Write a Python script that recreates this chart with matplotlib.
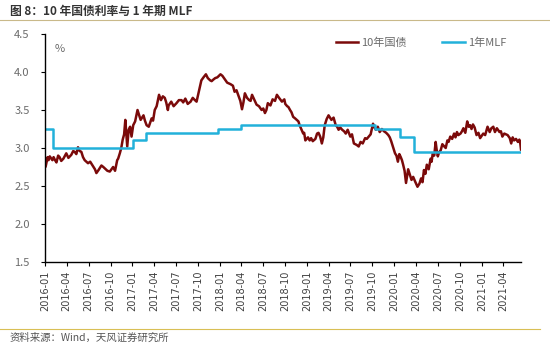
import matplotlib
matplotlib.use('Agg')
import matplotlib.pyplot as plt
import pandas as pd

plt.rcParams['font.family'] = ['Noto Sans CJK SC', 'DejaVu Sans']
plt.rcParams['axes.unicode_minus'] = False

# 10年国债收益率（%）
cgb_dates = [
    '2016-01-04', '2016-01-12', '2016-01-16', '2016-01-21', '2016-02-01', '2016-02-06',
    '2016-02-12', '2016-02-18', '2016-02-25', '2016-03-02', '2016-03-09', '2016-03-18',
    '2016-03-30', '2016-04-08', '2016-04-20', '2016-04-28', '2016-05-04', '2016-05-11',
    '2016-05-18', '2016-05-25', '2016-06-01', '2016-06-08', '2016-06-15', '2016-06-22',
    '2016-06-29', '2016-07-08', '2016-07-20', '2016-07-28', '2016-08-03', '2016-08-12',
    '2016-08-24', '2016-09-01', '2016-09-08', '2016-09-18', '2016-09-28', '2016-10-05',
    '2016-10-12', '2016-10-20', '2016-10-29', '2016-11-02', '2016-11-09', '2016-11-15',
    '2016-11-21', '2016-11-27', '2016-12-02', '2016-12-06', '2016-12-10', '2016-12-16',
    '2016-12-22', '2016-12-28', '2017-01-04', '2017-01-12', '2017-01-22', '2017-01-28',
    '2017-02-04', '2017-02-10', '2017-02-16', '2017-02-22', '2017-03-01', '2017-03-10',
    '2017-03-22', '2017-03-28', '2017-04-04', '2017-04-12', '2017-04-22', '2017-04-30',
    '2017-05-08', '2017-05-16', '2017-05-22', '2017-05-29', '2017-06-01', '2017-06-12',
    '2017-06-22', '2017-07-04', '2017-07-14', '2017-07-25', '2017-08-01', '2017-08-10',
    '2017-08-20', '2017-09-01', '2017-09-10', '2017-09-19', '2017-09-26', '2017-10-04',
    '2017-10-10', '2017-10-16', '2017-10-25', '2017-11-04', '2017-11-12', '2017-11-22',
    '2017-11-28', '2017-12-05', '2017-12-13', '2017-12-22', '2018-01-04', '2018-01-12',
    '2018-01-25', '2018-02-01', '2018-02-15', '2018-02-25', '2018-03-04', '2018-03-12',
    '2018-03-19', '2018-03-28', '2018-04-04', '2018-04-10', '2018-04-16', '2018-04-25',
    '2018-05-04', '2018-05-10', '2018-05-16', '2018-05-25', '2018-06-04', '2018-06-14',
    '2018-06-25', '2018-07-02', '2018-07-09', '2018-07-15', '2018-07-21', '2018-08-01',
    '2018-08-10', '2018-08-20', '2018-08-28', '2018-09-06', '2018-09-18', '2018-09-28',
    '2018-10-02', '2018-10-10', '2018-10-15', '2018-10-22', '2018-10-28', '2018-11-04',
    '2018-11-12', '2018-11-19', '2018-11-26', '2018-12-01', '2018-12-08', '2018-12-16',
    '2018-12-20', '2018-12-25', '2019-01-05', '2019-01-12', '2019-01-18', '2019-01-25',
    '2019-02-05', '2019-02-12', '2019-02-18', '2019-02-25', '2019-03-04', '2019-03-10',
    '2019-03-16', '2019-03-24', '2019-04-01', '2019-04-07', '2019-04-13', '2019-04-22',
    '2019-05-01', '2019-05-07', '2019-05-13', '2019-05-20', '2019-05-28', '2019-06-05',
    '2019-06-12', '2019-06-20', '2019-07-01', '2019-07-08', '2019-07-16', '2019-07-28',
    '2019-08-05', '2019-08-13', '2019-08-22', '2019-09-01', '2019-09-08', '2019-09-16',
    '2019-09-24', '2019-10-04', '2019-10-10', '2019-10-16', '2019-10-24', '2019-11-01',
    '2019-11-10', '2019-11-19', '2019-11-28', '2019-12-07', '2019-12-13', '2019-12-19',
    '2020-01-04', '2020-01-10', '2020-01-16', '2020-01-22', '2020-01-28', '2020-02-02',
    '2020-02-07', '2020-02-13', '2020-02-19', '2020-02-28', '2020-03-05', '2020-03-13',
    '2020-03-20', '2020-03-28', '2020-04-07', '2020-04-15', '2020-04-22', '2020-04-28',
    '2020-05-04', '2020-05-10', '2020-05-16', '2020-05-24', '2020-06-01', '2020-06-05',
    '2020-06-10', '2020-06-16', '2020-06-22', '2020-06-26', '2020-07-01', '2020-07-06',
    '2020-07-13', '2020-07-20', '2020-07-28', '2020-08-03', '2020-08-10', '2020-08-15',
    '2020-08-22', '2020-08-30', '2020-09-07', '2020-09-13', '2020-09-19', '2020-09-25',
    '2020-10-04', '2020-10-10', '2020-10-16', '2020-10-24', '2020-11-01', '2020-11-07',
    '2020-11-13', '2020-11-19', '2020-11-25', '2020-12-02', '2020-12-10', '2020-12-18',
    '2020-12-25', '2021-01-07', '2021-01-15', '2021-01-25', '2021-02-03', '2021-02-10',
    '2021-02-18', '2021-02-25', '2021-03-05', '2021-03-16', '2021-03-22', '2021-03-28',
    '2021-04-05', '2021-04-19', '2021-04-28', '2021-05-04', '2021-05-10', '2021-05-16',
    '2021-05-24', '2021-06-01', '2021-06-07', '2021-06-10', '2021-06-14',
]
cgb_yield = [
    2.76, 2.88, 2.84, 2.89, 2.84, 2.88,
    2.84, 2.81, 2.90, 2.88, 2.83, 2.86,
    2.93, 2.87, 2.91, 2.96, 2.95, 2.92,
    3.01, 2.96, 2.95, 2.88, 2.84, 2.82,
    2.80, 2.82, 2.76, 2.72, 2.67, 2.71,
    2.77, 2.75, 2.73, 2.70, 2.69, 2.72,
    2.75, 2.70, 2.84, 2.86, 2.93, 3.00,
    3.11, 3.18, 3.37, 3.20, 3.02, 3.24,
    3.28, 3.15, 3.30, 3.35, 3.50, 3.44,
    3.37, 3.40, 3.43, 3.36, 3.30, 3.28,
    3.39, 3.36, 3.50, 3.55, 3.70, 3.63,
    3.68, 3.66, 3.60, 3.50, 3.56, 3.61,
    3.55, 3.59, 3.63, 3.63, 3.60, 3.65,
    3.58, 3.61, 3.66, 3.63, 3.61, 3.72,
    3.80, 3.89, 3.93, 3.97, 3.92, 3.89,
    3.88, 3.90, 3.92, 3.93, 3.97, 3.95,
    3.89, 3.86, 3.84, 3.82, 3.74, 3.76,
    3.70, 3.62, 3.51, 3.60, 3.72, 3.66,
    3.63, 3.62, 3.70, 3.64, 3.57, 3.55,
    3.50, 3.52, 3.46, 3.50, 3.59, 3.56,
    3.64, 3.62, 3.70, 3.66, 3.61, 3.64,
    3.58, 3.55, 3.54, 3.50, 3.47, 3.41,
    3.39, 3.37, 3.35, 3.30, 3.25, 3.19,
    3.20, 3.10, 3.14, 3.10, 3.13, 3.09,
    3.12, 3.19, 3.20, 3.15, 3.06, 3.14,
    3.30, 3.38, 3.43, 3.40, 3.37, 3.40,
    3.30, 3.28, 3.24, 3.27, 3.24, 3.22,
    3.19, 3.24, 3.15, 3.18, 3.06, 3.04,
    3.02, 3.08, 3.06, 3.13, 3.12, 3.15,
    3.18, 3.32, 3.27, 3.24, 3.28, 3.21,
    3.25, 3.22, 3.20, 3.17, 3.14, 3.09,
    2.93, 2.90, 2.82, 2.92, 2.88, 2.84,
    2.78, 2.70, 2.54, 2.72, 2.66, 2.58,
    2.62, 2.56, 2.49, 2.53, 2.60, 2.55,
    2.71, 2.66, 2.78, 2.72, 2.86, 2.82,
    2.93, 2.90, 3.08, 2.98, 2.89, 2.94,
    2.97, 3.05, 3.02, 3.00, 3.10, 3.08,
    3.15, 3.12, 3.19, 3.14, 3.21, 3.17,
    3.19, 3.22, 3.26, 3.20, 3.35, 3.28,
    3.30, 3.25, 3.31, 3.27, 3.17, 3.20,
    3.13, 3.19, 3.17, 3.28, 3.21, 3.26,
    3.28, 3.21, 3.26, 3.21, 3.22, 3.15,
    3.19, 3.17, 3.13, 3.06, 3.14, 3.10,
    3.12, 3.08, 3.11, 3.08, 2.98,
]

# 1年期MLF利率（%），按调整日期
mlf_dates = ['2016-01-04', '2016-02-02', '2017-01-04', '2017-02-27', '2017-12-24',
             '2018-04-01', '2019-10-12', '2020-01-25', '2020-03-25', '2021-06-14']
mlf_rate = [3.25, 3.00, 3.10, 3.20, 3.25, 3.30, 3.25, 3.15, 2.95, 2.95]

tick_labels = ['2016-01', '2016-04', '2016-07', '2016-10', '2017-01', '2017-04', '2017-07',
               '2017-10', '2018-01', '2018-04', '2018-07', '2018-10', '2019-01', '2019-04',
               '2019-07', '2019-10', '2020-01', '2020-04', '2020-07', '2020-10', '2021-01',
               '2021-04']

cgb = pd.Series(cgb_yield, index=pd.to_datetime(cgb_dates)).sort_index()
mlf_x = pd.to_datetime(mlf_dates)

red = '#7b0a0a'
blue = '#22b1da'
gray = '#6b6b6b'

fig = plt.figure(figsize=(5.5, 3.45), dpi=100)
ax = fig.add_axes([0.0818, 0.2406, 0.8655, 0.6608])

ax.plot(cgb.index, cgb.values, color=red, linewidth=1.8, label='10年国债')
ax.plot(mlf_x, mlf_rate, color=blue, linewidth=1.8, drawstyle='steps-post', label='1年MLF')

ax.set_ylim(1.5, 4.5)
ax.set_yticks([1.5, 2.0, 2.5, 3.0, 3.5, 4.0, 4.5])
ax.set_yticklabels([f'{v:.1f}' for v in ax.get_yticks()])
ax.set_xlim(cgb.index[0], cgb.index[-1])
ax.set_xticks(pd.to_datetime([t + '-01' for t in tick_labels]))
ax.set_xticklabels(tick_labels, rotation=90, fontsize=7, color='#404040',
                   family='DejaVu Sans')

ax.tick_params(axis='y', labelsize=8, colors=gray, length=3, pad=8)
ax.tick_params(axis='x', length=3, pad=3)
ax.tick_params(axis='both', color='black')
for side in ['top', 'right']:
    ax.spines[side].set_visible(False)
for side in ['left', 'bottom']:
    ax.spines[side].set_color('black')
    ax.spines[side].set_linewidth(1.0)

ax.text(0.021, 0.935, '%', transform=ax.transAxes, fontsize=8, color=gray,
        ha='left', va='center')

leg = ax.legend(loc='upper right', bbox_to_anchor=(0.99, 1.03), ncol=2, frameon=False,
                fontsize=8, handlelength=2.0, handletextpad=0.3, columnspacing=3.2)
for t in leg.get_texts():
    t.set_color(gray)

# 标题与来源
fig.text(0.018, 0.967, '图 8：10 年国债利率与 1 年期 MLF', fontsize=8.5, fontweight='bold',
         color='#333333', ha='left', va='center')
fig.add_artist(plt.Line2D([0.0, 1.0], [0.942, 0.942], color='#c9b98a', linewidth=0.8,
                          transform=fig.transFigure))
fig.add_artist(plt.Line2D([0.0, 0.982], [0.046, 0.046], color='#d9bf55', linewidth=0.8,
                          transform=fig.transFigure))
fig.text(0.018, 0.02, '资料来源：Wind，天风证券研究所', fontsize=7.5, color='#555555',
         ha='left', va='center')

fig.savefig('out.png', dpi=100)
